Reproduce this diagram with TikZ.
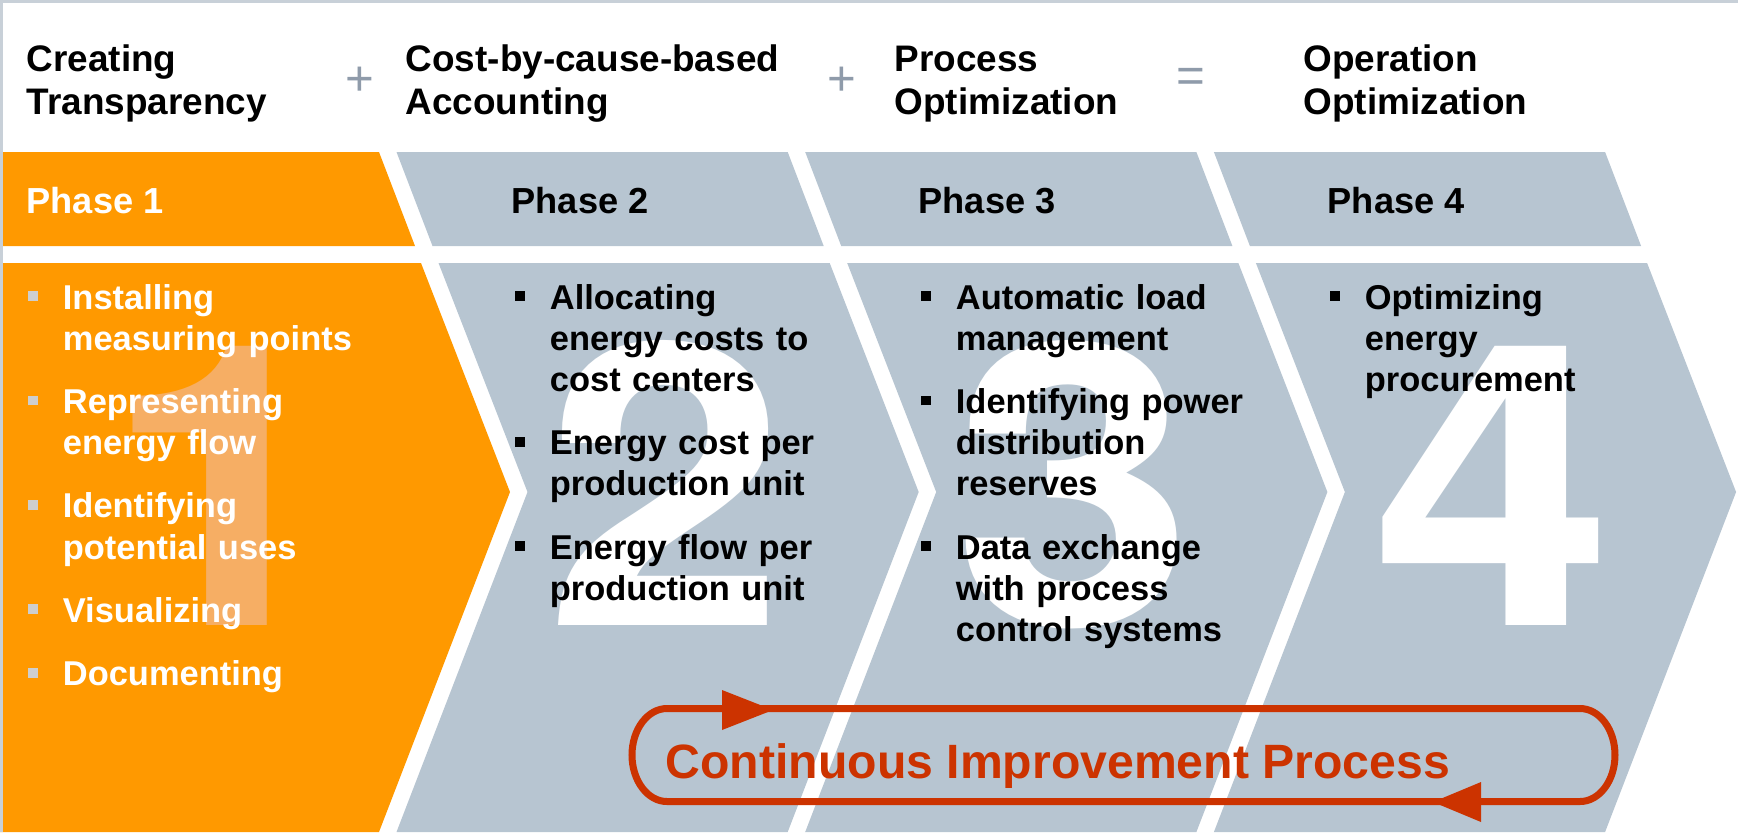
\documentclass[tikz,border=0pt]{standalone}
\usepackage{fontspec}
\setmainfont{Liberation Sans}
\newfontfamily\numfont{TeX Gyre Heros}
\definecolor{phaseorange}{RGB}{255,153,0}
\definecolor{phasegrey}{RGB}{183,197,209}
\definecolor{numpeach}{RGB}{246,174,100}
\definecolor{loopred}{RGB}{204,51,0}
\definecolor{signgrey}{RGB}{143,155,170}
\definecolor{framegrey}{RGB}{200,208,216}
\definecolor{dotgrey}{RGB}{206,206,206}
\newcommand\bulletsq[1]{\llap{\makebox[10pt][l]{\color{#1}\raisebox{2.3pt}{\rule{2.8pt}{2.8pt}}}}}
\newcommand\phitem[2]{\leavevmode\bulletsq{#1}#2\par}
\newcommand\listsetup{\setlength\parskip{6.3pt}\setlength\leftskip{10pt}}

\begin{document}
\begin{tikzpicture}[x=0.01cm,y=-0.01cm,
  headtitle/.style={anchor=base west,inner sep=0pt,text width=150pt,align=left,
    font=\fontsize{10.5pt}{12.5pt}\selectfont\bfseries},
  phaselabel/.style={anchor=base west,inner sep=0pt,
    font=\fontsize{10.3pt}{12pt}\selectfont\bfseries},
  sign/.style={inner sep=0pt,text=signgrey,font=\fontsize{14pt}{14pt}\selectfont},
  bignum/.style={anchor=base,inner sep=0pt,xscale=1.1,
    font=\numfont\fontsize{112pt}{112pt}\selectfont\bfseries},
  itemlist/.style={anchor=base west,inner sep=0pt,text width=130pt,align=left,
    font=\fontsize{9.8pt}{11.7pt}\selectfont\bfseries}]
\useasboundingbox (0,0) rectangle (1738,832);

\fill[phaseorange] (0,152) -- (379,152) -- (415,246) -- (0,246) -- cycle;
\fill[phaseorange] (0,263) -- (421,263) -- (510,492) -- (379,832) -- (0,832) -- cycle;
\foreach \k in {1,2,3}{
  \pgfmathsetmacro\rx{408.7*\k}
  \pgfmathsetmacro\lx{\rx-391.2}
  \fill[phasegrey] ({379+\lx},152) -- ({379+\rx},152) -- ({415+\rx},246) -- ({415+\lx},246) -- cycle;
  \fill[phasegrey] ({421+\lx},263) -- ({421+\rx},263) -- ({510+\rx},492) -- ({379+\rx},832)
    -- ({379+\lx},832) -- ({510+\lx},492) -- cycle;
}
\draw[framegrey,line width=0.025cm] (0,1.25) -- (1738,1.25);
\draw[framegrey,line width=0.025cm] (1.25,0) -- (1.25,832);

\node[headtitle] (ttrans) at (26,71) {Creating\\Transparency};
\node[headtitle] (tcost) at (405,71) {Cost-by-cause-based\\Accounting};
\node[headtitle] (tproc) at (894,71) {Process\\Optimization};
\node[headtitle] (toper) at (1303,71) {Operation\\Optimization};
\node[sign] (plusa) at (360,81) {+};
\node[sign] (plusb) at (842,81) {+};
\node[sign] (eq) at (1191,80) {=};

\node[phaselabel,text=white] (p1) at (26,213) {Phase 1};
\node[phaselabel] (p2) at (511,213) {Phase 2};
\node[phaselabel] (p3) at (918,213) {Phase 3};
\node[phaselabel] (p4) at (1327,213) {Phase 4};

\node[bignum,text=numpeach] (n1) at (224,625) {1};
\foreach \n/\x in {2/666,3/1074,4/1493}
  \node[bignum,text=white] (n\n) at (\x,625) {\n};

\node[itemlist,text=white] (l1) at (27,309) {\listsetup
  \phitem{dotgrey}{Installing\\measuring points}
  \phitem{dotgrey}{Representing\\energy flow}
  \phitem{dotgrey}{Identifying\\potential uses}
  \phitem{dotgrey}{Visualizing}
  \phitem{dotgrey}{Documenting}};
\node[itemlist] (l2) at (514,309) {\listsetup
  \phitem{black}{Allocating\\energy costs to\\cost centers}
  \phitem{black}{Energy cost per\\production unit}
  \phitem{black}{Energy flow per\\production unit}};
\node[itemlist] (l3) at (920,309) {\listsetup
  \phitem{black}{Automatic load\\management}
  \phitem{black}{Identifying power\\distribution\\reserves}
  \phitem{black}{Data exchange\\with process\\control systems}};
\node[itemlist] (l4) at (1329,309) {\listsetup
  \phitem{black}{Optimizing\\energy\\procurement}};

\draw[loopred,line width=0.07cm] (667,708.5) -- (1580,708.5)
  arc[start angle=-90,end angle=90,x radius=35,y radius=46.5] -- (667,801.5)
  arc[start angle=90,end angle=270,x radius=35,y radius=46.5] -- cycle;
\fill[loopred] (722,690) -- (773,710) -- (722,730) -- cycle;
\fill[loopred] (1481,782) -- (1433,802) -- (1481,822) -- cycle;
\node[anchor=base west,inner sep=0pt,text=loopred,
  font=\fontsize{13.7pt}{14pt}\selectfont\bfseries] (cip) at (665,778) {Continuous Improvement Process};
\end{tikzpicture}
\end{document}
